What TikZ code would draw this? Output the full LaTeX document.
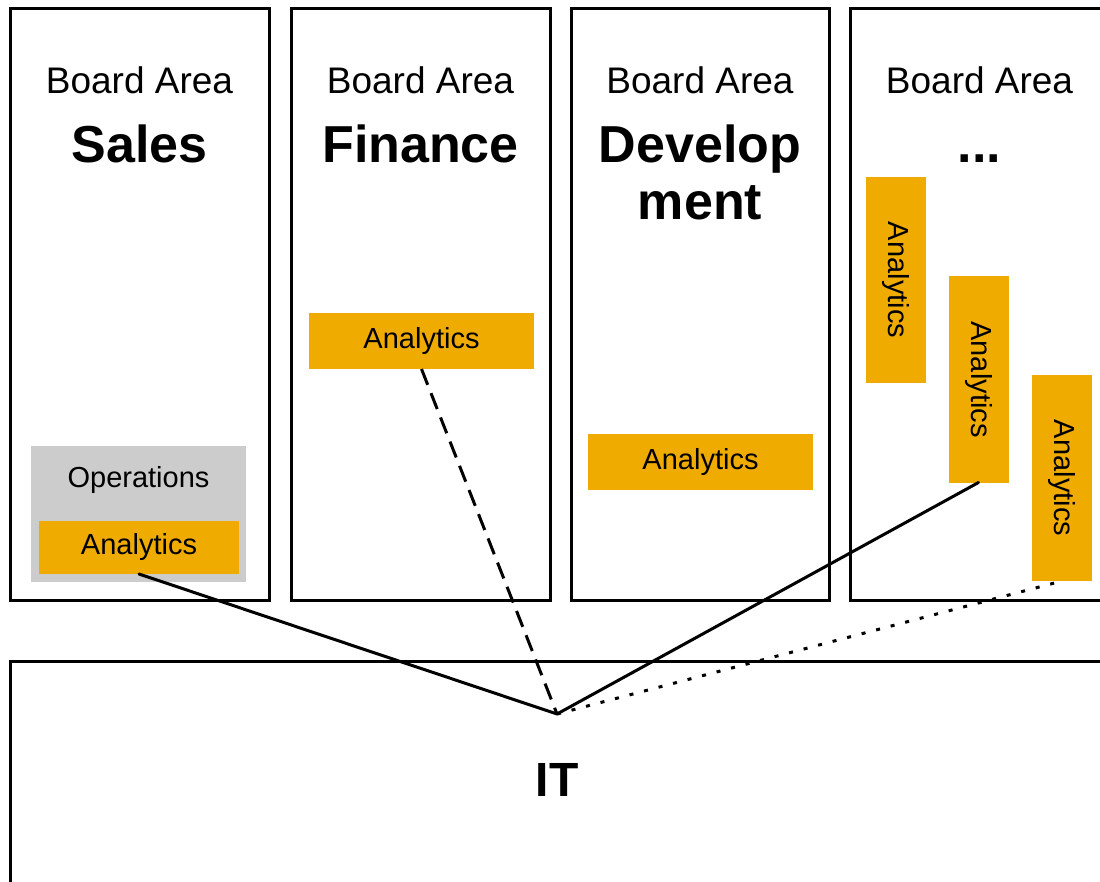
\documentclass[tikz,border=0pt]{standalone}
\usepackage{fontspec}
\setmainfont{Liberation Sans}
\usepackage{xcolor}
\usetikzlibrary{positioning}
\definecolor{AnaGold}{HTML}{F0AB00}
\definecolor{OpsGray}{HTML}{CCCCCC}

\begin{document}
\begin{tikzpicture}[x=1pt, y=-1pt, line width=3pt, color=black,
      every node/.append style={inner sep=0pt, outer sep=0pt},
      board/.style={draw, rectangle, minimum width=259pt, minimum height=591pt},
      area/.style={font=\fontsize{37}{44}\selectfont, anchor=base},
      title/.style={font=\fontsize{52}{57}\selectfont\bfseries, anchor=base, align=center},
      ana/.style={fill=AnaGold, minimum width=225pt, minimum height=56pt, font=\fontsize{29}{34}\selectfont},
      vana/.style={ana, rotate=-90, minimum width=206pt, minimum height=60pt}]
	  \tikzstyle{link} = [line cap=round]
	  \clip (0,0) rectangle (1100,882);
	  \useasboundingbox (0,0) rectangle (1100,882);
	  % board areas
	  \node (sales) [board] at (139.5,304.5) {};
	  \node (finance) [board] at (420.5,304.5) {};
	  \node (devel) [board, minimum width=258pt] at (700,304.5) {};
	  \node (more) [board] at (979.5,304.5) {};
	  \node (it) [draw, minimum width=1100pt, minimum height=250pt] at (560,786) {};
	  \node (salesarea) [area] at (139.5,94) {Board Area};
	  \node (finarea) [area] at (420.5,94) {Board Area};
	  \node (devarea) [area] at (700,94) {Board Area};
	  \node (morearea) [area] at (979.5,94) {Board Area};
	  \node (salestitle) [title] at (139.5,163) {Sales};
	  \node (fintitle) [title] at (420.5,163) {Finance};
	  % base of a two-line node sits on its last line
	  \node (devtitle) [title] at (700,220) {Develop\\ment};
	  \node (moretitle) [title] at (979.5,163) {...};
	  \node (ittitle) [title, font=\fontsize{48}{57}\selectfont\bfseries] at (557,796) {IT};
	  % analytics units
	  \node (ops) [fill=OpsGray, minimum width=215pt, minimum height=136pt] at (138.5,514) {};
	  \node (opslabel) [anchor=base, font=\fontsize{29}{34}\selectfont] at (138.5,487) {Operations};
	  \node (salesan) [ana, minimum width=200pt, minimum height=53pt] at (139,547.5) {Analytics};
	  \node (finan) [ana] at (421.5,341) {Analytics};
	  \node (devan) [ana] at (700.5,462) {Analytics};
	  \node (moreana) [vana] at (896,280) {Analytics};
	  \node (moreanb) [vana] at (978.5,379.5) {Analytics};
	  \node (moreanc) [vana] at (1062,478) {Analytics};
	  % links to IT
	  \coordinate (hub) at (557,714);
	  \draw[link] (salesan.south) -- (hub);
	  \draw[dash pattern=on 17pt off 9pt] (finan.south) -- (hub);
	  \draw[link] (hub) -- (moreanb.east);
	  \draw[dash pattern=on 4pt off 11pt] (hub) -- (moreanc.east);
\end{tikzpicture}
\end{document}
